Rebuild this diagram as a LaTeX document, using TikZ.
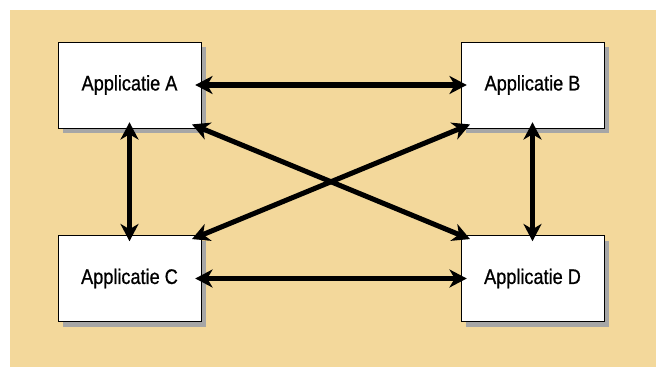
\documentclass[tikz,border=0pt]{standalone}
\usepackage{fontspec}
\setmainfont{Liberation Sans}[FakeStretch=0.86, FakeBold=0.8]
\usetikzlibrary{positioning, calc, arrows.meta, shadows}
\definecolor{sand}{HTML}{F3D89B}
\tikzset{
every node/.style = {font = \fontsize{18}{20}\selectfont},
app/.style = {rectangle, draw, thin, fill = white, inner sep = 2pt,
	minimum width = 4.29cm, minimum height = 2.58cm,
	drop shadow = {shadow xshift = 0.16cm, shadow yshift = -0.16cm,
		fill = black!35, opacity = 1}},
link/.style = {{Stealth[length = 5.2mm, width = 5.4mm, inset = 1.6mm]}-{Stealth[length = 5.2mm, width = 5.4mm, inset = 1.6mm]},
	line width = 4.3pt, shorten > = -0.18cm, shorten < = -0.18cm},
cross/.style = {link, shorten > = -0.3cm, shorten < = -0.3cm}
}

\begin{document}
\begin{tikzpicture}

%% Canvas
\useasboundingbox (0, 0) rectangle (19.68, -11.01);
\fill [sand] (0.3, -0.3) rectangle (19.68, -11.01);

%% Applications
\node at (3.885, -2.55) [app] (A) {Applicatie A};
\node at (15.975, -2.55) [app] (B) {Applicatie B};
\node at (3.885, -8.355) [app] (C) {Applicatie C};
\node at (15.975, -8.355) [app] (D) {Applicatie D};

%% Links
\draw [link] (A) -- (B);
\draw [link] (C) -- (D);
\draw [link] (A) -- (C);
\draw [link] (B) -- (D);
\draw [cross] (A.south east) -- (D.north west);
\draw [cross] (B.south west) -- (C.north east);

\end{tikzpicture}
\end{document}
